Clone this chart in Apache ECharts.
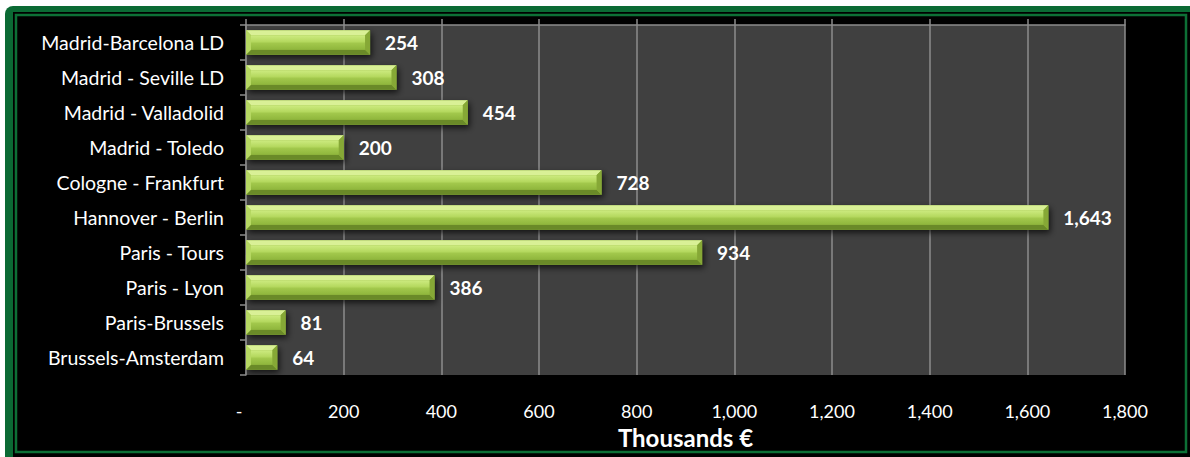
<!DOCTYPE html>
<html>
<head>
<meta charset="utf-8">
<script src="https://cdn.jsdelivr.net/npm/echarts@6/dist/echarts.min.js"></script>
<style>
html,body{margin:0;padding:0;background:#fff;}
#chart{width:1190px;height:457px;}
</style>
</head>
<body>
<div id="chart"></div>
<script>
var categories = ['Madrid-Barcelona LD','Madrid - Seville LD','Madrid - Valladolid','Madrid - Toledo','Cologne - Frankfurt','Hannover - Berlin','Paris - Tours','Paris - Lyon','Paris-Brussels','Brussels-Amsterdam'];
var values = [254, 308, 454, 200, 728, 1643, 934, 386, 81, 64];
var axisTicks = [0, 200, 400, 600, 800, 1000, 1200, 1400, 1600, 1800];

var chart = echarts.init(document.getElementById('chart'), null, {renderer: 'svg'});
var FONT = 'Lato, "Open Sans", sans-serif';

function fmt(v) { return v === 0 ? '-   ' : v.toLocaleString('en-US'); }

function renderBevelBar(params, api) {
  var cat = api.value(0);
  var val = api.value(1);
  var p0 = api.coord([0, cat]);
  var p1 = api.coord([val, cat]);
  var band = api.size([0, 1])[1];
  var h = band * 0.7;
  var x0 = p0[0], x1 = p1[0];
  var y0 = p0[1] - h / 2, y1 = p0[1] + h / 2;
  var w = x1 - x0;
  var b = Math.min(5, w / 2);
  return {
    type: 'group',
    children: [
      {type: 'rect', shape: {x: x0, y: y0, width: w, height: h},
       style: {fill: '#8fb23e', shadowBlur: 6, shadowColor: 'rgba(0,0,0,0.7)', shadowOffsetX: 2, shadowOffsetY: 3}},
      {type: 'polygon', shape: {points: [[x0, y0], [x1, y0], [x1 - b, y0 + b], [x0 + b, y0 + b]]},
       style: {fill: '#d9f096'}},
      {type: 'polygon', shape: {points: [[x0, y1], [x1, y1], [x1 - b, y1 - b], [x0 + b, y1 - b]]},
       style: {fill: '#6a8a28'}},
      {type: 'polygon', shape: {points: [[x0, y0], [x0 + b, y0 + b], [x0 + b, y1 - b], [x0, y1]]},
       style: {fill: '#b6d862'}},
      {type: 'polygon', shape: {points: [[x1, y0], [x1 - b, y0 + b], [x1 - b, y1 - b], [x1, y1]]},
       style: {fill: '#86a836'}},
      {type: 'rect', shape: {x: x0 + b, y: y0 + b, width: Math.max(0, w - 2 * b), height: h - 2 * b},
       style: {fill: new echarts.graphic.LinearGradient(0, 0, 0, 1, [
         {offset: 0, color: '#cdeb80'},
         {offset: 0.45, color: '#b4d85e'},
         {offset: 0.55, color: '#a2c84c'},
         {offset: 1, color: '#8fb63c'}
       ])}}
    ]
  };
}

var option = {
  backgroundColor: '#ffffff',
  animation: false,
  graphic: [
    {type: 'rect', z: -10, shape: {x: 5, y: 6, width: 1300, height: 600, r: 8}, style: {fill: '#0b6a34'}},
    {type: 'rect', z: -9, shape: {x: 13, y: 12, width: 1300, height: 600}, style: {fill: '#000000'}},
    {type: 'rect', z: -8, shape: {x: 16, y: 15, width: 1170, height: 437}, style: {fill: '#000000', stroke: '#0d7036', lineWidth: 2.5}}
  ],
  grid: {left: 246, top: 25, right: 65, bottom: 82, backgroundColor: '#404040', show: true, borderWidth: 0},
  xAxis: [
    {
      type: 'value', position: 'top', min: 0, max: 1800, interval: 200,
      axisLine: {show: true, lineStyle: {color: '#8c8c8c', width: 1.5}},
      axisTick: {show: true, inside: false, length: 6, lineStyle: {color: '#8c8c8c', width: 1.5}},
      axisLabel: {show: false},
      splitLine: {show: true, lineStyle: {color: '#8c8c8c', width: 1.5}}
    },
    {
      type: 'value', position: 'bottom', min: 0, max: 1800, interval: 200,
      axisLine: {show: false}, axisTick: {show: false}, splitLine: {show: false},
      axisLabel: {color: '#ffffff', fontSize: 18, fontFamily: FONT, margin: 27, formatter: fmt},
      name: 'Thousands €', nameLocation: 'middle', nameGap: 50,
      nameTextStyle: {color: '#ffffff', fontSize: 24, fontWeight: 'bold', fontFamily: FONT}
    }
  ],
  yAxis: {
    type: 'category', data: categories, inverse: true,
    axisLine: {show: true, lineStyle: {color: '#8c8c8c', width: 1.5}},
    axisTick: {show: true, length: 6, lineStyle: {color: '#8c8c8c', width: 1.5}},
    axisLabel: {color: '#ffffff', fontSize: 19.5, fontFamily: FONT, margin: 22},
    splitLine: {show: false}
  },
  series: [
    {
      type: 'custom', xAxisIndex: 0, yAxisIndex: 0,
      renderItem: renderBevelBar,
      encode: {x: 1, y: 0},
      data: values.map(function (v, i) { return [i, v]; }),
      z: 3
    },
    {
      type: 'bar', xAxisIndex: 0, yAxisIndex: 0, barWidth: '70%',
      data: values,
      itemStyle: {color: 'rgba(0,0,0,0)'},
      label: {show: true, position: 'right', distance: 15, color: '#ffffff', fontSize: 19, fontWeight: 'bold', fontFamily: FONT,
              formatter: function (p) { return fmt(p.value); }},
      silent: true, z: 4
    }
  ]
};
chart.setOption(option);
</script>
</body>
</html>
